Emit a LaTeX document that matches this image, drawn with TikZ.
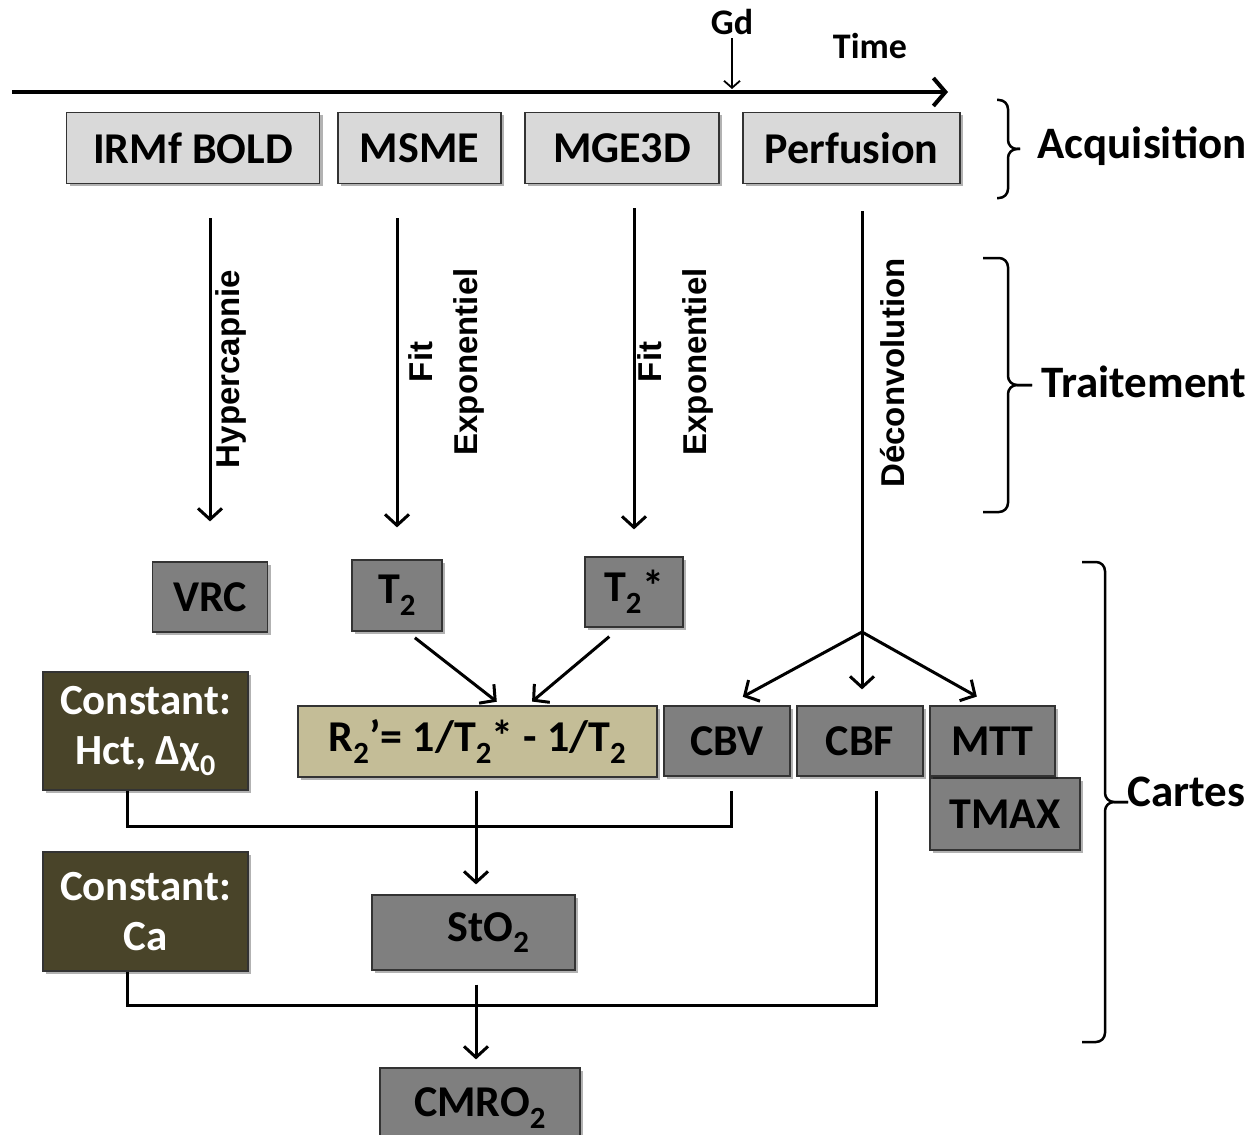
\documentclass[tikz,border=0pt]{standalone}
\usepackage{fontspec}
\setmainfont{Carlito}
\newfontfamily\arialfont{Liberation Sans}
\usetikzlibrary{arrows.meta}
\usetikzlibrary{shadows}
\definecolor{clair}{HTML}{D9D9D9}
\definecolor{fonce}{HTML}{7F7F7F}
\definecolor{sable}{HTML}{C4BD97}
\definecolor{olive}{HTML}{494429}
\newcommand{\accolade}[5]{% x bout, x milieu, x pointe, y haut, y bas
	\draw[line width=2.5pt,rounded corners=9pt] (#1,#4) -- (#2,#4) -- (#2,{(#4+#5)/2}) -- (#3,{(#4+#5)/2});
	\draw[line width=2.5pt,rounded corners=9pt] (#1,#5) -- (#2,#5) -- (#2,{(#4+#5)/2}) -- (#3,{(#4+#5)/2});}
\begin{document}
\begin{tikzpicture}[x=1pt,y=-1pt,
	boite/.style={draw=black!80,line width=1.2pt,inner sep=0pt,minimum height=71pt,
		font=\fontsize{44}{48}\selectfont\bfseries,
		drop shadow={shadow xshift=3pt,shadow yshift=-3pt,opacity=.3,fill=black}},
	acq/.style={boite,fill=clair},
	carte/.style={boite,fill=fonce},
	constante/.style={boite,fill=olive,text=white,align=center,
		font=\fontsize{43}{50}\selectfont\bfseries},
	etiq/.style={rotate=90,align=center,font=\arialfont\fontsize{33}{45}\selectfont\bfseries},
	titre/.style={anchor=west,font=\fontsize{45}{48}\selectfont\bfseries},
	fleche/.style={line width=3pt,-{Straight Barb[length=11pt,width=24pt]}},
	trait/.style={line width=3pt}]
	\clip (0,0) rectangle (1257,1134);
	% axe du temps
	\coordinate (t0) at (12,92);
	\coordinate (t1) at (948,92);
	\draw[line width=4pt,-{Straight Barb[length=12pt,width=28pt]}] (t0) -- (t1);
	\node[font=\fontsize{36}{40}\selectfont\bfseries] (gd) at (732,22) {Gd};
	\node[font=\fontsize{36}{40}\selectfont\bfseries] (time) at (870,46) {Time};
	\draw[line width=1.8pt,-{Straight Barb[length=7pt,width=16pt]},shorten >=3pt] (gd.south) -- (gd.south |- t0);
	% acquisition
	\node[acq,minimum width=253pt] (irmf) at (193,148) {IRMf BOLD};
	\node[acq,minimum width=163pt] (msme) at (419.5,148) {MSME};
	\node[acq,minimum width=194pt] (mge) at (622,148) {MGE3D};
	\node[acq,minimum width=217pt] (perf) at (851.5,148) {Perfusion};
	% cartes
	\node[carte,minimum width=115pt,minimum height=70pt] (vrc) at (210,597) {VRC};
	\node[carte,minimum width=90pt] (tdeux) at (397,595.5) {T\textsubscript{2}};
	\node[carte,minimum width=98pt,minimum height=70pt] (tstar) at (634,592) {T\textsubscript{2}*};
	\node[boite,fill=sable,minimum width=359pt] (rdeux) at (477.5,741.5) {R\textsubscript{2}’= 1/T\textsubscript{2}* - 1/T\textsubscript{2}};
	\node[carte,minimum width=126pt,minimum height=70pt] (cbv) at (727,741) {CBV};
	\node[carte,minimum width=126pt,minimum height=70pt] (cbf) at (860,741) {CBF};
	\node[carte,minimum width=150pt,minimum height=72pt] (tmax) at (1005,814) {TMAX};
	\node[carte,minimum width=125pt,minimum height=70pt] (mtt) at (992.5,741) {MTT};
	\node[constante,minimum width=205pt,minimum height=118pt] (hct) at (145.5,731) {Constant:\\Hct, Δχ\textsubscript{0}};
	\node[constante,minimum width=205pt,minimum height=119pt] (ca) at (145.5,911.5) {Constant:\\Ca};
	\node[carte,minimum width=203pt,minimum height=75pt] (sto) at (473.5,932.5) {\hspace*{30pt}StO\textsubscript{2}};
	\node[carte,minimum width=200pt,minimum height=80pt] (cmro) at (480,1108) {CMRO\textsubscript{2}};
	% traitement
	\draw[fleche,shorten <=34pt,shorten >=40pt] (irmf.south -| vrc.north) -- (vrc.north);
	\draw[fleche,shorten <=34pt,shorten >=32pt] (msme.south -| tdeux.north) -- (tdeux.north);
	\draw[fleche,shorten <=24pt,shorten >=27pt] (mge.south -| tstar.north) -- (tstar.north);
	\coordinate (split) at (862,632);
	\draw[trait,shorten <=27pt] (perf.south -| split) -- (split);
	\draw[fleche,shorten >=18pt] (split) -- (cbv.north);
	\draw[fleche,shorten >=16pt] (split) -- (split |- cbf.north);
	\draw[fleche,shorten >=18pt] (split) -- (mtt.north);
	\node[etiq] (hyper) at (231,369) {Hypercapnie};
	\node[etiq] (fitun) at (446,362) {Fit\\Exponentiel};
	\node[etiq] (fitdeux) at (675,362) {Fit\\Exponentiel};
	\node[etiq] (deconv) at (893,373) {Déconvolution};
	% combinaisons
	\draw[fleche,shorten <=10pt,shorten >=6pt] ([xshift=10pt]tdeux.south) -- ([xshift=24pt]rdeux.north);
	\draw[fleche,shorten <=14pt,shorten >=6pt] ([xshift=-14pt]tstar.south) -- ([xshift=50pt]rdeux.north);
	\draw[trait,shorten >=14pt] ([xshift=-18pt]hct.south) -- ++(0,36) -| ([xshift=4pt]cbv.south);
	\draw[fleche,shorten <=13pt,shorten >=10pt] ([xshift=-1.5pt]rdeux.south) -- ([xshift=-1.5pt]rdeux.south |- sto.north);
	\draw[trait,shorten >=14pt] ([xshift=-18pt]ca.south) -- ++(0,34) -| ([xshift=16pt]cbf.south);
	\draw[fleche,shorten <=14pt,shorten >=8pt] ([xshift=-1.5pt]rdeux.south |- sto.south) -- ([xshift=-1.5pt]rdeux.south |- cmro.north);
	% accolades
	\accolade{997}{1008}{1020}{100}{198}
	\accolade{983}{1008}{1032}{258}{512}
	\accolade{1082}{1105}{1128}{562}{1042}
	\node[titre] (acquis) at (1034,146) {Acquisition};
	\node[titre] (trait) at (1038,382) {Traitement};
	\node[titre] (cartes) at (1124,792) {Cartes};
\end{tikzpicture}
\end{document}
